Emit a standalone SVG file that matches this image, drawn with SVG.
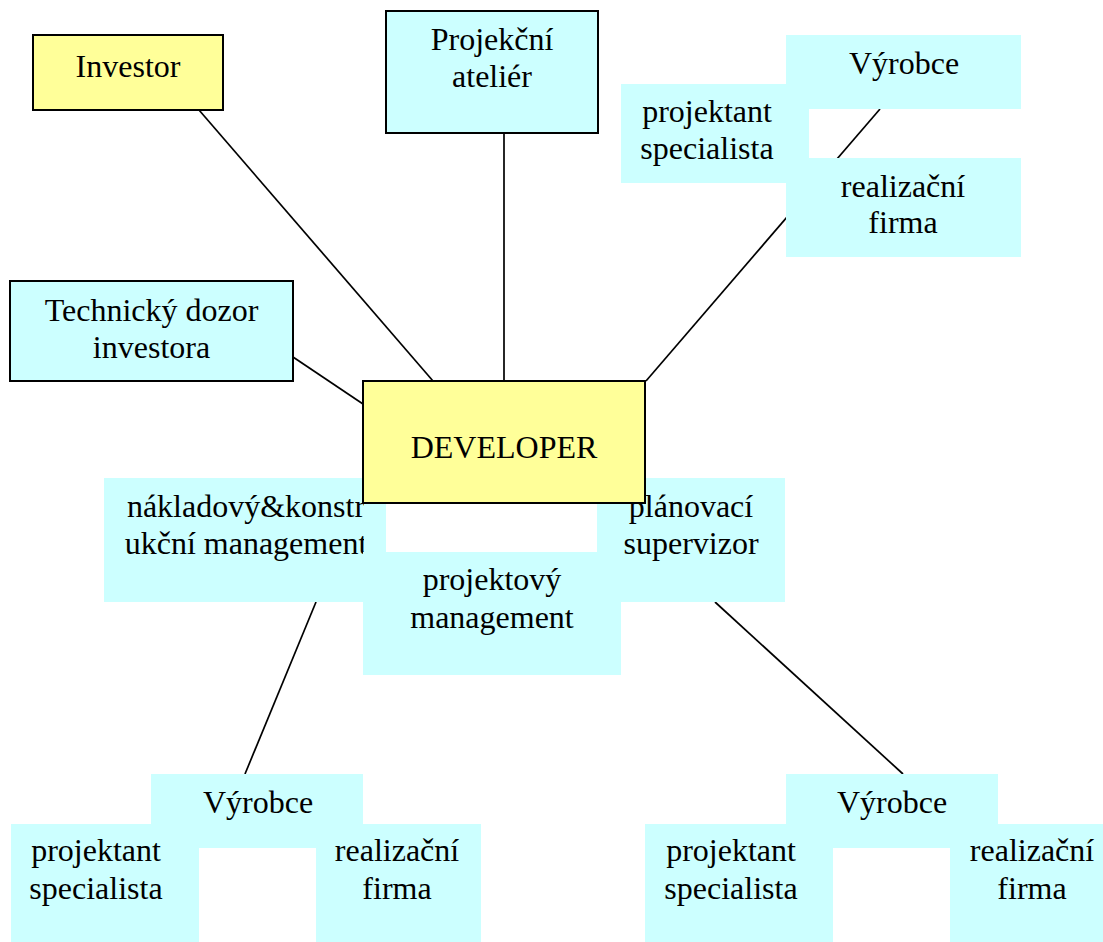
<svg xmlns="http://www.w3.org/2000/svg" width="1103" height="942" viewBox="0 0 1103 942">
  <style>
    .lbl { font-family: "Liberation Serif", "Times New Roman", serif; font-size: 32px; fill: #000; text-anchor: middle; }
    .yellow { fill: #FFFF99; stroke: #000; stroke-width: 2; }
    .cyan { fill: #CCFFFF; stroke: #000; stroke-width: 2; }
    .plain { fill: #CCFFFF; stroke: none; }
    .conn line { stroke: #000; stroke-width: 1.7; }
  </style>
  <defs>
    <clipPath id="clipCost">
      <rect x="100" y="470" width="264" height="140"/>
    </clipPath>
  </defs>
  <rect width="1103" height="942" fill="#fff"/>

  <!-- connectors drawn first so the boxes sit on top -->
  <g id="connectors" class="conn">
    <line x1="199" y1="110" x2="433" y2="381"/>
    <line x1="504" y1="133" x2="504" y2="381"/>
    <line x1="293" y1="357" x2="363" y2="404"/>
    <line x1="646" y1="381" x2="880" y2="109"/>
    <line x1="316" y1="602" x2="245" y2="774"/>
    <line x1="715" y1="602" x2="903" y2="774"/>
  </g>

  <g id="investor">
    <rect class="yellow" x="33" y="35" width="190" height="75"/>
    <text class="lbl" x="128" y="77">Investor</text>
  </g>

  <g id="projekcni-atelier">
    <rect class="cyan" x="386" y="11" width="212" height="122"/>
    <text class="lbl" x="492" y="50">Projekční</text>
    <text class="lbl" x="492" y="87">ateliér</text>
  </g>

  <g id="technicky-dozor">
    <rect class="cyan" x="10" y="281" width="283" height="100"/>
    <text class="lbl" x="151.5" y="321">Technický dozor</text>
    <text class="lbl" x="151.5" y="358">investora</text>
  </g>

  <!-- supplier cluster, top right -->
  <g id="top-vyrobce">
    <rect class="plain" x="786" y="35" width="235" height="74"/>
    <text class="lbl" x="904" y="74">Výrobce</text>
  </g>
  <g id="top-projektant">
    <rect class="plain" x="621" y="84" width="188" height="99"/>
    <text class="lbl" x="707" y="122">projektant</text>
    <text class="lbl" x="707" y="159">specialista</text>
  </g>
  <g id="top-realizacni">
    <rect class="plain" x="786" y="158" width="235" height="99"/>
    <text class="lbl" x="903" y="197">realizační</text>
    <text class="lbl" x="903" y="233">firma</text>
  </g>

  <!-- management trio under the developer -->
  <g id="nakladovy-management">
    <rect class="plain" x="104" y="478" width="282" height="124"/>
    <g clip-path="url(#clipCost)">
      <text class="lbl" x="246" y="517">nákladový&amp;konstr</text>
      <text class="lbl" x="246" y="554">ukční management</text>
    </g>
  </g>
  <g id="planovaci-supervizor">
    <rect class="plain" x="597" y="478" width="188" height="124"/>
    <text class="lbl" x="691" y="517">plánovací</text>
    <text class="lbl" x="691" y="554">supervizor</text>
  </g>
  <g id="projektovy-management">
    <rect class="plain" x="363" y="552" width="258" height="123"/>
    <text class="lbl" x="492" y="590">projektový</text>
    <text class="lbl" x="492" y="628">management</text>
  </g>

  <g id="developer">
    <rect class="yellow" x="363" y="381" width="282" height="122"/>
    <text class="lbl" x="504" y="458">DEVELOPER</text>
  </g>

  <!-- supplier cluster, bottom left -->
  <g id="bl-vyrobce">
    <rect class="plain" x="151" y="774" width="212" height="74"/>
    <text class="lbl" x="258" y="813">Výrobce</text>
  </g>
  <g id="bl-projektant">
    <rect class="plain" x="11" y="824" width="188" height="118"/>
    <text class="lbl" x="96" y="861">projektant</text>
    <text class="lbl" x="96" y="899">specialista</text>
  </g>
  <g id="bl-realizacni">
    <rect class="plain" x="316" y="824" width="165" height="118"/>
    <text class="lbl" x="397" y="861">realizační</text>
    <text class="lbl" x="397" y="899">firma</text>
  </g>

  <!-- supplier cluster, bottom right -->
  <g id="br-vyrobce">
    <rect class="plain" x="786" y="774" width="212" height="74"/>
    <text class="lbl" x="892" y="813">Výrobce</text>
  </g>
  <g id="br-projektant">
    <rect class="plain" x="645" y="824" width="188" height="118"/>
    <text class="lbl" x="731" y="861">projektant</text>
    <text class="lbl" x="731" y="899">specialista</text>
  </g>
  <g id="br-realizacni">
    <rect class="plain" x="950" y="824" width="165" height="118"/>
    <text class="lbl" x="1032" y="861">realizační</text>
    <text class="lbl" x="1032" y="899">firma</text>
  </g>
</svg>
